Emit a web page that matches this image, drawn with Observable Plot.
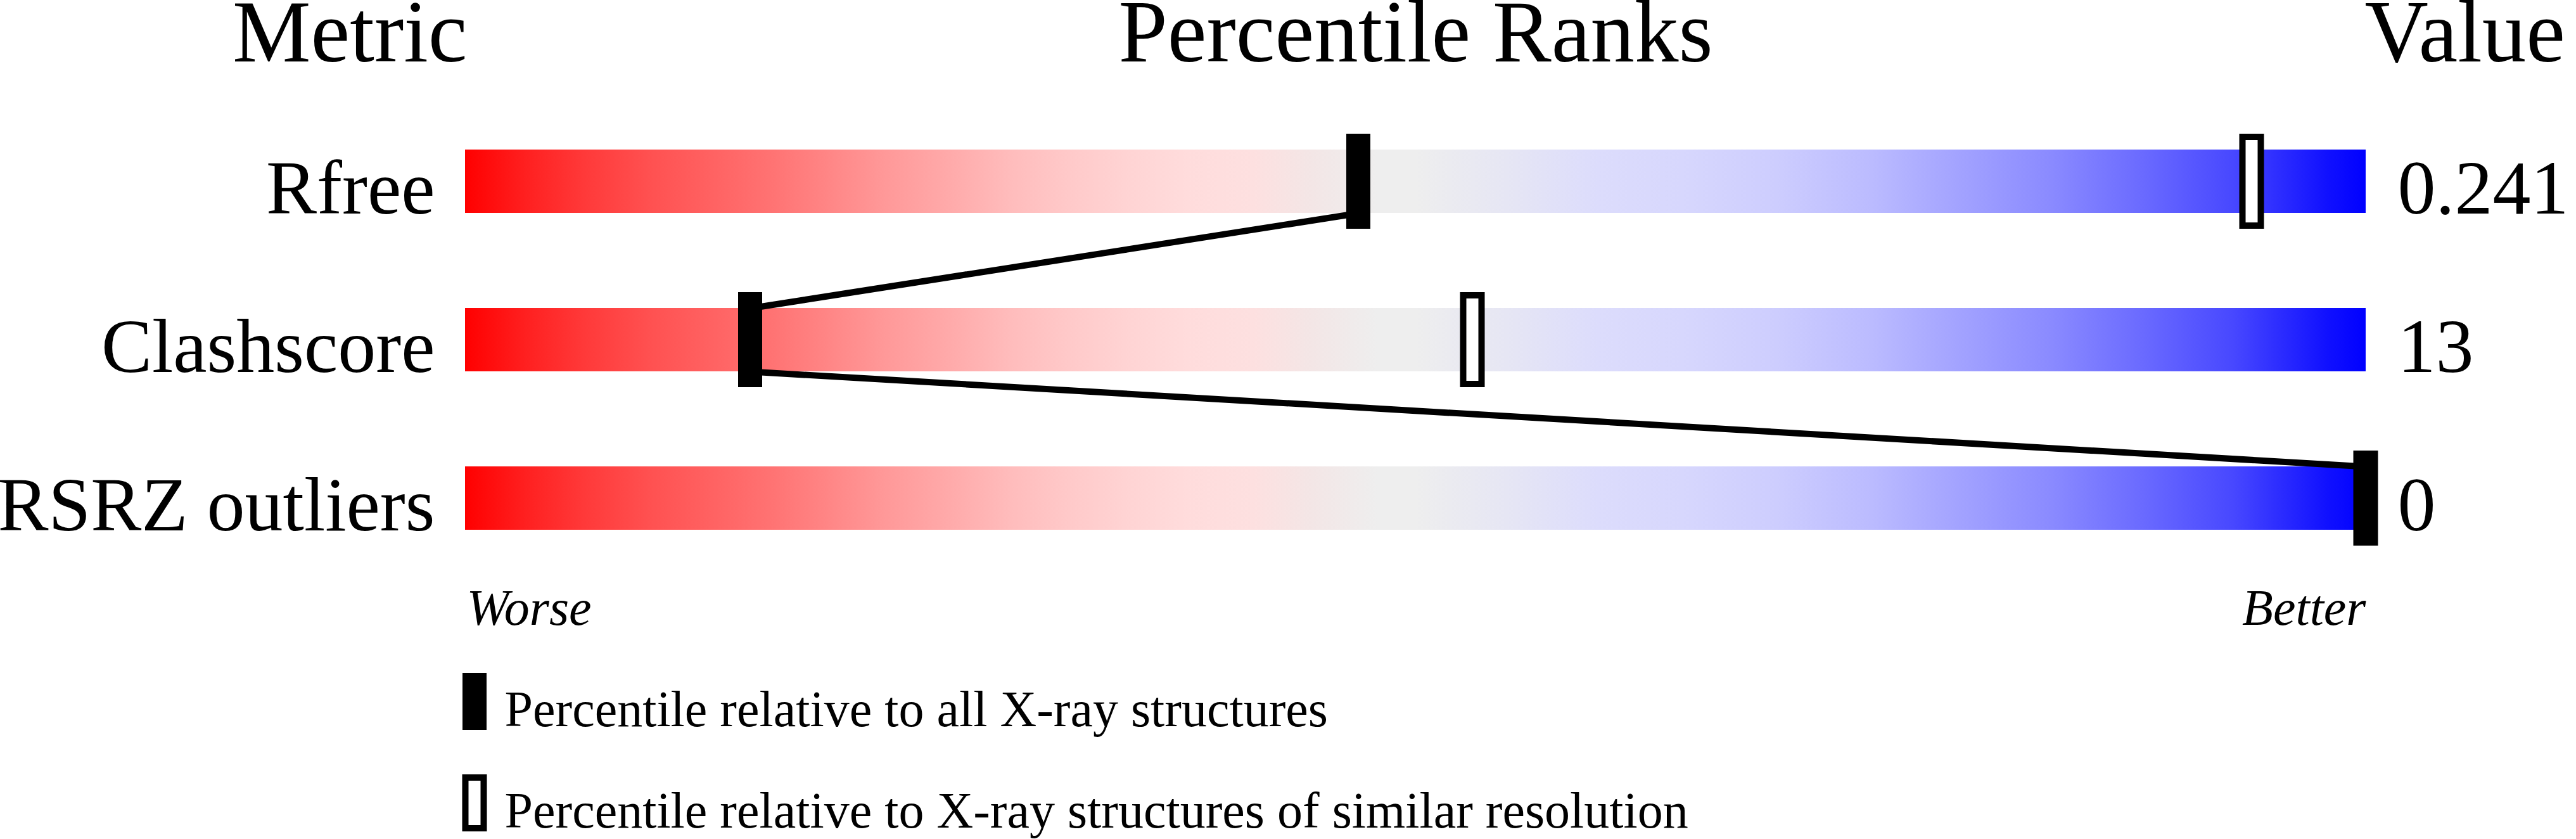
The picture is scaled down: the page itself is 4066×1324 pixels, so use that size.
<!DOCTYPE html>
<html><head><meta charset="utf-8">
<script src="https://cdn.jsdelivr.net/npm/d3@7"></script>
<script src="https://cdn.jsdelivr.net/npm/@observablehq/plot@0.6"></script>
<style>html,body{margin:0;padding:0;background:#fff;} svg{display:block;}</style>
</head><body><div id="chart"></div>
<script>
// ---- data ----
const metrics = ["Rfree", "Clashscore", "RSRZ outliers"];
const values = ["0.241", "13", "0"];
const rankAll = [47, 15, 100];        // percentile relative to all X-ray structures
const rankSimilar = [94, 53, 100];    // percentile relative to similar resolution
const headers = ["Metric", "Percentile Ranks", "Value"];
const scaleEnds = ["Worse", "Better"];
const legendLabels = [
  "Percentile relative to all X-ray structures",
  "Percentile relative to X-ray structures of similar resolution"
];

// ---- style ----
const gradStops = [
  [0, "#ff0000"], [0.032, "#ff2020"], [0.064, "#ff3a3a"], [0.096, "#ff5050"],
  [0.128, "#ff6161"], [0.16, "#ff7272"], [0.19, "#ff8585"], [0.22, "#ff9898"],
  [0.255, "#ffaaaa"], [0.287, "#ffbcbc"], [0.32, "#ffcaca"], [0.35, "#ffd4d4"],
  [0.38, "#ffdcdc"], [0.415, "#fde0e0"], [0.446, "#f3e6e6"], [0.48, "#eeeeee"],
  [0.5, "#eeeeee"], [0.548, "#e6e6f4"], [0.596, "#dcdcfc"], [0.64, "#d7d7fd"],
  [0.69, "#cdcdfe"], [0.74, "#bbbbff"], [0.787, "#a2a2ff"], [0.835, "#8a8aff"],
  [0.88, "#6c6cff"], [0.93, "#4848ff"], [0.98, "#1010ff"], [1, "#0000ff"]
];
const font = "'Liberation Serif', 'Times New Roman', serif";
const W = 4066;
const xScale = {domain: [0, 100], range: [734, 3734]};
const idx = metrics.map((d, i) => i);

const main = Plot.plot({
  width: W, height: 1010,
  margin: 0,
  style: {fontFamily: font, background: "white", color: "black", overflow: "visible"},
  x: {...xScale, axis: null},
  y: {domain: [0, 2], range: [286, 786], axis: null},
  marks: [
    // gradient slider bars
    Plot.rect(idx, {x1: 0, x2: 100, y1: i => i - 0.2, y2: i => i + 0.2, fill: "url(#sliderGrad)"}),
    // connecting lines between 'all structures' markers
    Plot.link(idx.slice(0, -1), {
      x1: i => rankAll[i], y1: i => i + 0.2,
      x2: i => rankAll[i + 1], y2: i => i + 1 - 0.2,
      stroke: "black", strokeWidth: 10
    }),
    // similar-resolution markers (open)
    Plot.rect(idx, {
      x1: i => rankSimilar[i], x2: i => rankSimilar[i],
      y1: i => i - 0.28, y2: i => i + 0.28,
      insetLeft: -14.5, insetRight: -14.5,
      fill: "white", stroke: "black", strokeWidth: 10
    }),
    // all-structures markers (filled)
    Plot.rect(idx, {
      x1: i => rankAll[i], x2: i => rankAll[i],
      y1: i => i - 0.3, y2: i => i + 0.3,
      insetLeft: -19, insetRight: -19,
      fill: "black"
    }),
    // row labels
    Plot.text(idx, {x: 0, y: i => i, text: i => metrics[i], textAnchor: "end", lineAnchor: "bottom",
      dx: -48, dy: 50, fontSize: 120}),
    // values
    Plot.text(idx, {x: 100, y: i => i, text: i => values[i], textAnchor: "start", lineAnchor: "bottom",
      dx: 50, dy: 50, fontSize: 120}),
    // headers
    Plot.text([headers[0]], {x: 0, text: d => d, frameAnchor: "top", textAnchor: "end", lineAnchor: "bottom", dx: 3, dy: 96, fontSize: 139}),
    Plot.text([headers[1]], {x: 50, text: d => d, frameAnchor: "top", textAnchor: "middle", lineAnchor: "bottom", dy: 96, fontSize: 139}),
    Plot.text([headers[2]], {x: 100, text: d => d, frameAnchor: "top", textAnchor: "start", lineAnchor: "bottom", dx: -2, dy: 96, fontSize: 139}),
    // worse / better
    Plot.text([scaleEnds[0]], {x: 0, text: d => d, frameAnchor: "top", textAnchor: "start", lineAnchor: "bottom", dx: 2, dy: 985, fontSize: 80, fontStyle: "italic"}),
    Plot.text([scaleEnds[1]], {x: 100, text: d => d, frameAnchor: "top", textAnchor: "end", lineAnchor: "bottom", dy: 985, fontSize: 80, fontStyle: "italic"})
  ]
});

// gradient definition
const defs = d3.select(main).insert("defs", ":first-child");
const lg = defs.append("linearGradient").attr("id", "sliderGrad")
  .attr("x1", "0%").attr("x2", "100%").attr("y1", "0%").attr("y2", "0%");
gradStops.forEach(([o, c]) => lg.append("stop").attr("offset", o).attr("stop-color", c));

const legend = Plot.plot({
  width: W, height: 314,
  margin: 0,
  style: {fontFamily: font, background: "white", color: "black", overflow: "visible"},
  x: {...xScale, axis: null},
  y: {type: "band", domain: legendLabels, range: [52, 302], paddingInner: 0.4375, paddingOuter: 0, axis: null},
  marks: [
    Plot.barX([legendLabels[0]], {x1: 0, x2: 0, y: d => d, insetLeft: -19, insetRight: -19, dx: 15, fill: "black"}),
    Plot.barX([legendLabels[1]], {x1: 0, x2: 0, y: d => d, insetLeft: -14.5, insetRight: -14.5, insetTop: 5, insetBottom: 5,
      dx: 15, fill: "white", stroke: "black", strokeWidth: 10}),
    Plot.text(legendLabels, {x: 0, y: d => d, text: d => d, textAnchor: "start", lineAnchor: "bottom",
      dx: 62, dy: 38, fontSize: 80})
  ]
});

document.getElementById("chart").append(main, legend);
</script></body></html>
